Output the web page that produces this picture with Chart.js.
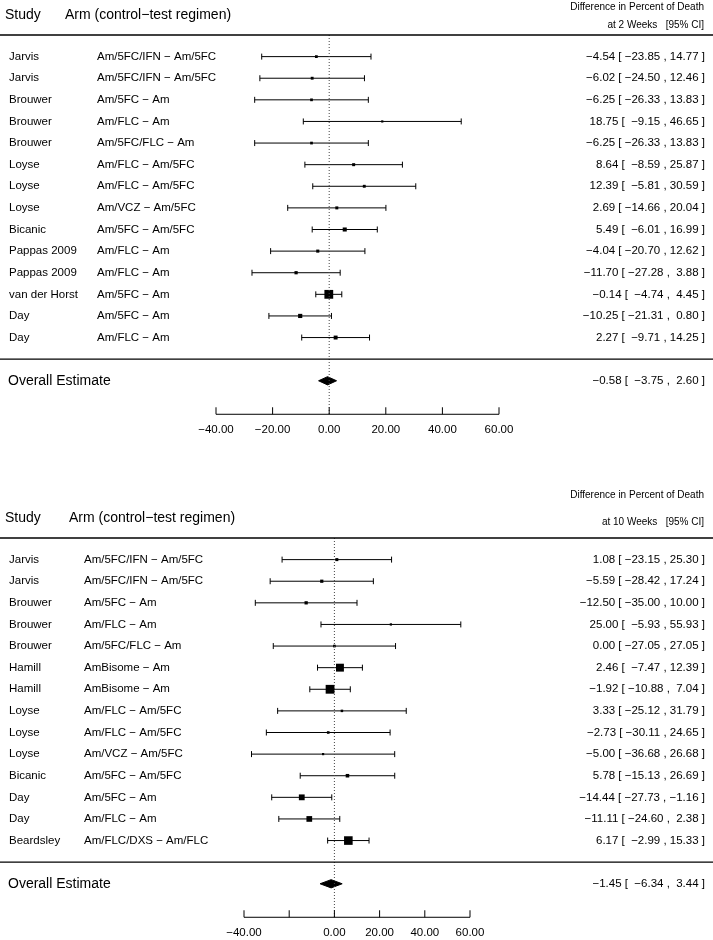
<!DOCTYPE html>
<html>
<head>
<meta charset="utf-8">
<script src="https://cdn.jsdelivr.net/npm/chart.js@4/dist/chart.umd.min.js"></script>
<style>
  body { margin: 0; background: #fff; }
  #wrap { width: 713px; height: 940px; }
  canvas { display: block; }
</style>
</head>
<body>
<div id="wrap">
  <canvas id="week2" width="713" height="470"></canvas>
  <canvas id="week10" width="713" height="470"></canvas>
</div>
<script>
const MINUS = '\u2212';

// mortality difference at 2 weeks
const studies2wk = ['Jarvis', 'Jarvis', 'Brouwer', 'Brouwer', 'Brouwer', 'Loyse', 'Loyse', 'Loyse',
  'Bicanic', 'Pappas 2009', 'Pappas 2009', 'van der Horst', 'Day', 'Day'];
const arms2wk = ['Am/5FC/IFN - Am/5FC', 'Am/5FC/IFN - Am/5FC', 'Am/5FC - Am', 'Am/FLC - Am', 'Am/5FC/FLC - Am',
  'Am/FLC - Am/5FC', 'Am/FLC - Am/5FC', 'Am/VCZ - Am/5FC', 'Am/5FC - Am/5FC', 'Am/FLC - Am', 'Am/FLC - Am',
  'Am/5FC - Am', 'Am/5FC - Am', 'Am/FLC - Am'];
const est2wk = [-4.54, -6.02, -6.25, 18.75, -6.25, 8.64, 12.39, 2.69, 5.49, -4.04, -11.70, -0.14, -10.25, 2.27];
const lo2wk = [-23.85, -24.50, -26.33, -9.15, -26.33, -8.59, -5.81, -14.66, -6.01, -20.70, -27.28, -4.74, -21.31, -9.71];
const hi2wk = [14.77, 12.46, 13.83, 46.65, 13.83, 25.87, 30.59, 20.04, 16.99, 12.62, 3.88, 4.45, 0.80, 14.25];
const overall2wk = [-0.58, -3.75, 2.60]; // est, lo, hi

// mortality difference at 10 weeks
const studies10wk = ['Jarvis', 'Jarvis', 'Brouwer', 'Brouwer', 'Brouwer', 'Hamill', 'Hamill', 'Loyse', 'Loyse',
  'Loyse', 'Bicanic', 'Day', 'Day', 'Beardsley'];
const arms10wk = ['Am/5FC/IFN - Am/5FC', 'Am/5FC/IFN - Am/5FC', 'Am/5FC - Am', 'Am/FLC - Am', 'Am/5FC/FLC - Am',
  'AmBisome - Am', 'AmBisome - Am', 'Am/FLC - Am/5FC', 'Am/FLC - Am/5FC', 'Am/VCZ - Am/5FC', 'Am/5FC - Am/5FC',
  'Am/5FC - Am', 'Am/FLC - Am', 'Am/FLC/DXS - Am/FLC'];
const est10wk = [1.08, -5.59, -12.50, 25.00, 0.00, 2.46, -1.92, 3.33, -2.73, -5.00, 5.78, -14.44, -11.11, 6.17];
const lo10wk = [-23.15, -28.42, -35.00, -5.93, -27.05, -7.47, -10.88, -25.12, -30.11, -36.68, -15.13, -27.73, -24.60, -2.99];
const hi10wk = [25.30, 17.24, 10.00, 55.93, 27.05, 12.39, 7.04, 31.79, 24.65, 26.68, 26.69, -1.16, 2.38, 15.33];
const overall10wk = [-1.45, -6.34, 3.44];

const tickValues = [-40, -20, 0, 20, 40, 60];
const tickLabels2wk = ['-40.00', '-20.00', '0.00', '20.00', '40.00', '60.00'];
const tickLabels10wk = ['-40.00', '', '0.00', '20.00', '40.00', '60.00'];

// row layout (y units, top to bottom)
const ROW_HEAD = 0, ROW_SEP = 15, ROW_OVERALL = 16, ROW_AXIS = 17.55, ROW_TICKLAB = 18.25;
const FONT = '"Liberation Sans", Arial, sans-serif';

const minus = (s) => s.replace(/-/g, MINUS);
const fmt = (v) => v.toFixed(2);

function ciTexts(est, lo, hi, overall) { // R-style padded "est [ lo , hi ]"
  const cols = [est.concat(overall[0]), lo.concat(overall[1]), hi.concat(overall[2])].map((c) => c.map(fmt));
  const widths = cols.map((c) => Math.max(...c.map((s) => s.length)));
  return cols[0].map((_, i) => {
    const [e, l, h] = cols.map((c, j) => c[i].padStart(widths[j], ' '));
    return minus(`${e} [ ${l} , ${h} ]`);
  });
}

function boxRadii(lo, hi) { // box size grows with precision, like metafor psize
  const prec = lo.map((l, i) => 1 / (hi[i] - l));
  const min = Math.min(...prec), max = Math.max(...prec);
  return prec.map((p) => ((p - min) / (max - min) * 1.5 + 0.5) * 4.4 / (2 * Math.SQRT1_2));
}

function makePanel(canvasId, panel) {
  const { studies, arms, est, lo, hi, overall, tickLabels, weeks, armX, armHeadX,
    diffRow, weeksRow, padLeft, padRight, padTop, padBottom } = panel;
  const texts = ciTexts(est, lo, hi, overall);
  const radii = boxRadii(lo, hi);

  const datasets = [];
  datasets.push({ // dotted no-effect line
    data: [{ x: 0, y: ROW_HEAD }, { x: 0, y: ROW_AXIS }],
    showLine: true, borderColor: '#444', borderWidth: 1, borderDash: [1, 2], pointRadius: 0
  });
  est.forEach((_, i) => {
    datasets.push({ // CI with end caps
      data: [{ x: lo[i], y: i + 1 }, { x: hi[i], y: i + 1 }],
      showLine: true, borderColor: '#000', borderWidth: 1,
      pointStyle: 'line', pointRotation: 90, pointRadius: 3, pointBorderWidth: 1, pointBorderColor: '#000'
    });
  });
  datasets.push({
    data: est.map((v, i) => ({ x: v, y: i + 1 })),
    pointStyle: 'rect', pointRadius: radii, pointBackgroundColor: '#000', pointBorderWidth: 0
  });
  const [oe, ol, oh] = overall;
  datasets.push({ // summary diamond
    data: [{ x: ol, y: ROW_OVERALL }, { x: oe, y: ROW_OVERALL - 0.19 }, { x: oh, y: ROW_OVERALL },
      { x: oe, y: ROW_OVERALL + 0.19 }, { x: ol, y: ROW_OVERALL }],
    showLine: true, fill: 'shape', backgroundColor: '#000', borderColor: '#000', borderWidth: 1, pointRadius: 0
  });

  const textPlugin = {
    id: 'forestText',
    afterDraw(chart) {
      const { ctx } = chart;
      const xs = chart.scales.x, ys = chart.scales.y;
      const py = (r) => ys.getPixelForValue(r);
      ctx.save();
      ctx.strokeStyle = '#000';
      ctx.fillStyle = '#000';

      ctx.lineWidth = 1.4;
      [ROW_HEAD, ROW_SEP].forEach((r) => {
        ctx.beginPath();
        ctx.moveTo(0, py(r));
        ctx.lineTo(chart.width, py(r));
        ctx.stroke();
      });

      // x axis with upward ticks
      ctx.lineWidth = 1;
      const ay = py(ROW_AXIS);
      ctx.beginPath();
      ctx.moveTo(xs.getPixelForValue(tickValues[0]), ay);
      ctx.lineTo(xs.getPixelForValue(tickValues[tickValues.length - 1]), ay);
      tickValues.forEach((t) => {
        ctx.moveTo(xs.getPixelForValue(t), ay);
        ctx.lineTo(xs.getPixelForValue(t), ay - 7);
      });
      ctx.stroke();
      ctx.font = `11.5px ${FONT}`;
      ctx.textAlign = 'center';
      ctx.textBaseline = 'middle';
      tickValues.forEach((t, i) => ctx.fillText(minus(tickLabels[i]), xs.getPixelForValue(t), py(ROW_TICKLAB)));

      // headers
      ctx.textAlign = 'left';
      ctx.font = `14px ${FONT}`;
      ctx.fillText('Study', 5, py(-0.93));
      ctx.fillText(minus('Arm (control-test regimen)'), armHeadX, py(-0.93));
      ctx.fillText('Overall Estimate', 8, py(ROW_OVERALL));
      ctx.textAlign = 'right';
      ctx.font = `10px ${FONT}`;
      ctx.fillText('Difference in Percent of Death', 704, py(diffRow));
      ctx.fillText(`at ${weeks} Weeks   [95% CI]`, 704, py(weeksRow));

      // rows
      ctx.font = `11.5px ${FONT}`;
      studies.forEach((s, i) => {
        ctx.textAlign = 'left';
        ctx.fillText(s, 9, py(i + 1));
        ctx.fillText(minus(arms[i]), armX, py(i + 1));
        ctx.textAlign = 'right';
        ctx.fillText(texts[i], 705, py(i + 1));
      });
      ctx.fillText(texts[texts.length - 1], 705, py(ROW_OVERALL));
      ctx.restore();
    }
  };

  return new Chart(document.getElementById(canvasId), {
    type: 'scatter',
    data: { datasets },
    options: {
      responsive: false,
      animation: false,
      events: [],
      clip: false,
      layout: { padding: { left: padLeft, right: padRight, top: padTop, bottom: padBottom } },
      scales: {
        x: { type: 'linear', min: -40, max: 60, display: false },
        y: { type: 'linear', min: 0, max: 18, reverse: true, display: false }
      },
      plugins: { legend: { display: false }, tooltip: { enabled: false } }
    },
    plugins: [textPlugin]
  });
}

makePanel('week2', {
  studies: studies2wk, arms: arms2wk, est: est2wk, lo: lo2wk, hi: hi2wk, overall: overall2wk,
  tickLabels: tickLabels2wk, weeks: 2, armX: 97, armHeadX: 65, diffRow: -1.3, weeksRow: -0.45,
  padLeft: 216, padRight: 214, padTop: 35, padBottom: 46
});
makePanel('week10', {
  studies: studies10wk, arms: arms10wk, est: est10wk, lo: lo10wk, hi: hi10wk, overall: overall10wk,
  tickLabels: tickLabels10wk, weeks: 10, armX: 84, armHeadX: 69, diffRow: -2.0, weeksRow: -0.75,
  padLeft: 244, padRight: 243, padTop: 68, padBottom: 13
});
</script>
</body>
</html>
